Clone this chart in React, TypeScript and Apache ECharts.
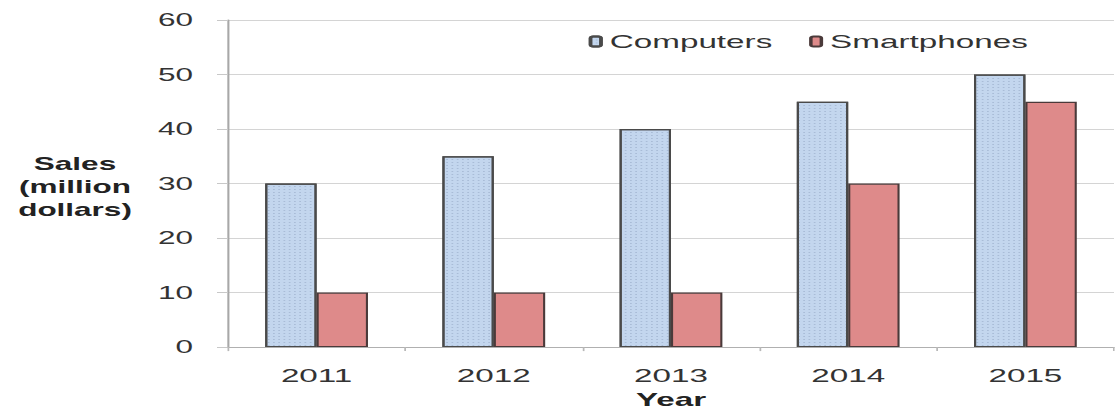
import React, { useEffect, useRef } from "react";
import * as echarts from "echarts";

const years = ["2011", "2012", "2013", "2014", "2015"];
const computers = [30, 35, 40, 45, 50];
const smartphones = [10, 10, 10, 30, 45];
const seriesNames = ["Computers", "Smartphones"];

// the reference picture is stretched horizontally; we draw at a narrower width and stretch it the same way
const STRETCH = 1.75;
const W = 1115 / STRETCH;
const H = 414;

export default function App() {
  const ref = useRef<HTMLDivElement>(null);
  useEffect(() => {
    document.body.style.margin = "0";
    const chart = echarts.init(ref.current!, null, { renderer: "svg", width: W, height: H });
    const font = "'Liberation Sans', Arial, sans-serif";
    const sx = (v: number) => v / STRETCH;
    chart.setOption({
      animation: false,
      backgroundColor: "#ffffff",
      textStyle: { fontFamily: font },
      grid: { left: sx(228), right: sx(1), top: 20, bottom: 51 },
      legend: {
        left: sx(580),
        top: 27,
        itemWidth: 6,
        itemHeight: 10,
        itemGap: 21,
        textStyle: { fontSize: 19, color: "#333", fontFamily: font },
        data: seriesNames,
      },
      graphic: [
        {
          type: "text",
          x: sx(75),
          y: 152,
          style: {
            text: "Sales\n(million\ndollars)",
            align: "center",
            verticalAlign: "top",
            fontSize: 18,
            fontWeight: "bold",
            lineHeight: 23,
            fill: "#222",
            fontFamily: font,
          },
        },
      ],
      xAxis: {
        type: "category",
        data: years,
        name: "Year",
        nameLocation: "middle",
        nameGap: 42,
        nameTextStyle: { fontSize: 19, fontWeight: "bold", color: "#222" },
        axisLine: { lineStyle: { color: "#b0b0b0", width: 1 } },
        axisTick: { show: true, length: 4, lineStyle: { color: "#b8b8b8" } },
        axisLabel: { fontSize: 19, color: "#333", margin: 19 },
      },
      yAxis: {
        type: "value",
        min: 0,
        max: 60,
        interval: 10,
        axisLine: { show: true, lineStyle: { color: "#a8a8a8", width: 1.2 } },
        axisTick: { show: true, length: sx(11), lineStyle: { color: "#c8c8c8" } },
        axisLabel: { fontSize: 18, color: "#333", margin: sx(35) },
        splitLine: { lineStyle: { color: "#d4d4d4", width: 1.2 } },
      },
      series: [
        {
          name: seriesNames[0],
          type: "bar",
          data: computers,
          barGap: "0%",
          barCategoryGap: "42%",
          itemStyle: {
            color: "#c3d6ee",
            borderColor: "#4a4a4a",
            borderWidth: 1.2,
            decal: {
              symbol: "rect",
              symbolSize: 1,
              color: "rgba(120,140,170,0.35)",
              dashArrayX: [1, 2],
              dashArrayY: [1, 2],
              rotation: 0,
            },
          },
        },
        {
          name: seriesNames[1],
          type: "bar",
          data: smartphones,
          itemStyle: {
            color: "#de8a8a",
            borderColor: "#4a3a3a",
            borderWidth: 1.2,
          },
        },
      ],
    });
    return () => chart.dispose();
  }, []);
  return (
    <div style={{ width: 1115, height: H, overflow: "hidden" }}>
      <div
        ref={ref}
        style={{ width: W, height: H, transform: `scaleX(${STRETCH})`, transformOrigin: "0 0" }}
      />
    </div>
  );
}
